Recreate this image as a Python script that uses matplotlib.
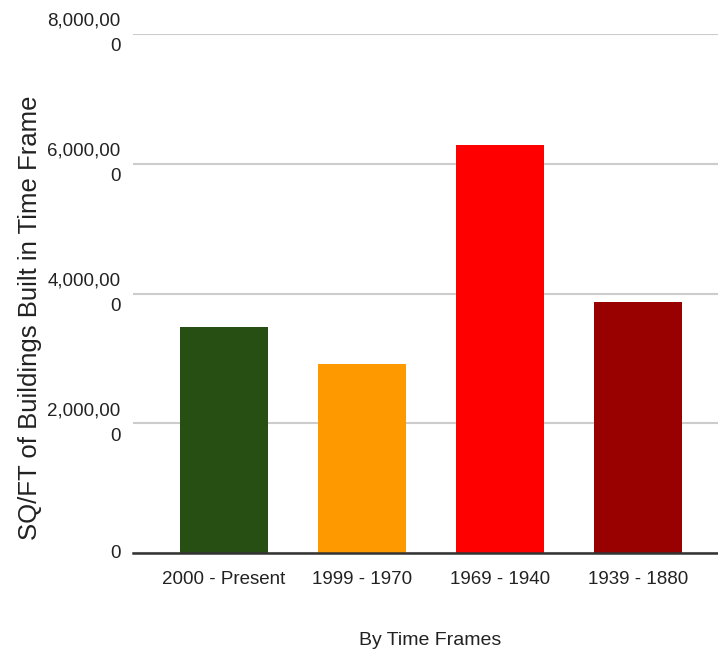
import matplotlib
matplotlib.use("Agg")
import matplotlib.pyplot as plt
from matplotlib.ticker import FuncFormatter

categories = ["2000 - Present", "1999 - 1970", "1969 - 1940", "1939 - 1880"]
sqft = [3480000, 2910000, 6290000, 3870000]
colors = ["#274e13", "#ff9900", "#ff0000", "#990000"]
yticks = [0, 2000000, 4000000, 6000000, 8000000]

tick_font = ["Liberation Sans", "DejaVu Sans"]

fig = plt.figure(figsize=(7.18, 6.55), dpi=100)
ax = fig.add_axes([0.185, 0.1557, 0.815, 0.7923])

x = range(len(categories))
ax.bar(x, sqft, width=0.64, color=colors, zorder=3)

ax.set_xlim(-0.66, 3.58)
ax.set_ylim(0, 8000000)
ax.set_yticks(yticks)


def wrap_label(v, pos):
    s = f"{v:,.0f}"
    if len(s) > 1:
        s = s[:-1] + "\n" + s[-1]
    return s


ax.yaxis.set_major_formatter(FuncFormatter(wrap_label))
ax.set_xticks(list(x))
ax.set_xticklabels(categories)

for lab in ax.get_xticklabels() + ax.get_yticklabels():
    lab.set_family(tick_font)
    lab.set_fontsize(13.5)
    lab.set_color("#222222")
for lab in ax.get_yticklabels():
    lab.set_horizontalalignment("right")
    lab.set_verticalalignment("center")
    lab.set_multialignment("right")
    lab.set_linespacing(1.65)

ax.tick_params(axis="y", length=0, pad=9)
ax.tick_params(axis="x", length=0, pad=13)

ax.grid(axis="y", color="#cccccc", linewidth=1.5, zorder=0)
for side in ["top", "right", "left"]:
    ax.spines[side].set_visible(False)
ax.spines["bottom"].set_color("#333333")
ax.spines["bottom"].set_linewidth(1.8)
ax.spines["bottom"].set_zorder(4)

ax.set_ylabel("SQ/FT of Buildings Built in Time Frame", family=tick_font,
              fontsize=18.5, color="#222222", va="center")
ax.yaxis.set_label_coords(-(133 - 30) / 585, (553 - 318) / 519)
ax.set_xlabel("By Time Frames", family=tick_font, fontsize=14,
              color="#222222", va="center")
ax.xaxis.set_label_coords(0.508, -(640 - 553) / 519)

fig.savefig("out.png", dpi=100)
